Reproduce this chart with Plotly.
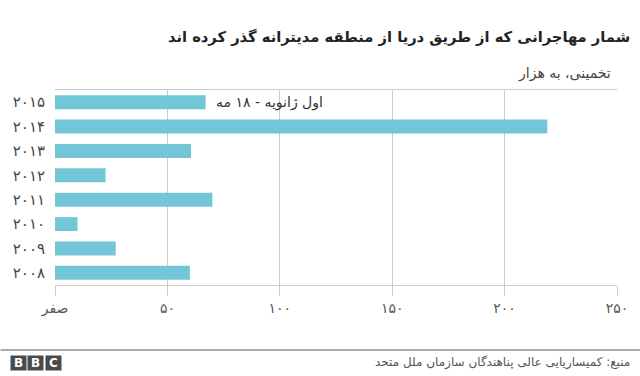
import plotly.graph_objects as go

# ---- data ----
years = ["۲۰۰۸", "۲۰۰۹", "۲۰۱۰", "۲۰۱۱", "۲۰۱۲", "۲۰۱۳", "۲۰۱۴", "۲۰۱۵"]
migrants = [60, 27, 10, 70, 22.5, 60.5, 219, 67]
tick_vals = [0, 50, 100, 150, 200, 250]
tick_text = ["صفر", "۵۰", "۱۰۰", "۱۵۰", "۲۰۰", "۲۵۰"]
title_text = "شمار مهاجرانی که از طریق دریا از منطقه مدیترانه گذر کرده اند"
subtitle_text = "تخمینی، به هزار"
note_text = "اول ژانویه - ۱۸ مه"
source_text = "منبع: کمیساریایی عالی پناهندگان سازمان ملل متحد"

FONT = "DejaVu Sans"
BAR = "#73C6D8"
GRID = "#cccccc"

fig = go.Figure(go.Bar(
    x=migrants, y=years, orientation="h",
    marker=dict(color=BAR, line=dict(width=0)),
    hoverinfo="skip",
))

L, R, T, B = 54.5, 23, 90, 91
W, H = 640, 376
pw, ph = W - L - R, H - T - B

def px(xp):
    return (xp - L) / pw

def py(yp):
    return (H - B - yp) / ph

fig.update_layout(
    width=W, height=H,
    margin=dict(l=L, r=R, t=T, b=B, pad=0),
    paper_bgcolor="white", plot_bgcolor="white",
    bargap=0.43,
    showlegend=False,
    font=dict(family=FONT, color="#555555"),
    xaxis=dict(
        range=[0, 250], tickvals=tick_vals, ticktext=tick_text,
        showgrid=True, gridcolor=GRID, gridwidth=1,
        zeroline=False,
        showline=True, mirror=True, linecolor=GRID, linewidth=1,
        ticks="outside", ticklen=10, tickcolor=GRID, tickwidth=1,
        tickfont=dict(size=14, color="#555555", family=FONT),
        fixedrange=True,
    ),
    yaxis=dict(
        categoryorder="array", categoryarray=years,
        showgrid=False, zeroline=False, showline=False,
        ticks="", ticklabelstandoff=9,
        tickfont=dict(size=15, color="#444444", family=FONT),
        fixedrange=True,
    ),
)

annotations = [
    dict(text="<b>" + title_text + "</b>", xref="paper", yref="paper", x=px(632), y=py(37),
         xanchor="right", yanchor="middle", showarrow=False,
         font=dict(size=14.7, color="#222222", family=FONT)),
    dict(text=subtitle_text, xref="paper", yref="paper", x=px(613), y=py(73),
         xanchor="right", yanchor="middle", showarrow=False,
         font=dict(size=14, color="#444444", family=FONT)),
    dict(text=note_text, xref="x", yref="y", x=migrants[-1], y=years[-1],
         xanchor="left", yanchor="middle", xshift=8, showarrow=False,
         font=dict(size=14, color="#333333", family=FONT)),
    dict(text=source_text, xref="paper", yref="paper", x=px(632), y=py(362),
         xanchor="right", yanchor="middle", showarrow=False,
         font=dict(size=12, color="#555555", family=FONT)),
]
for i, letter in enumerate("BBC"):
    annotations.append(dict(
        text="<b>" + letter + "</b>", xref="paper", yref="paper",
        x=px(9 + i * 17.5), y=py(363), xanchor="left", yanchor="middle",
        showarrow=False, width=15, height=14, bgcolor="#4a4a4a",
        borderpad=0, font=dict(size=12, color="white", family=FONT),
    ))
fig.update_layout(annotations=annotations)

fig.add_shape(type="line", xref="paper", yref="paper",
              x0=px(0), x1=px(640), y0=py(350), y1=py(350),
              line=dict(color="#aaaaaa", width=2))

fig.write_html("out.html")
